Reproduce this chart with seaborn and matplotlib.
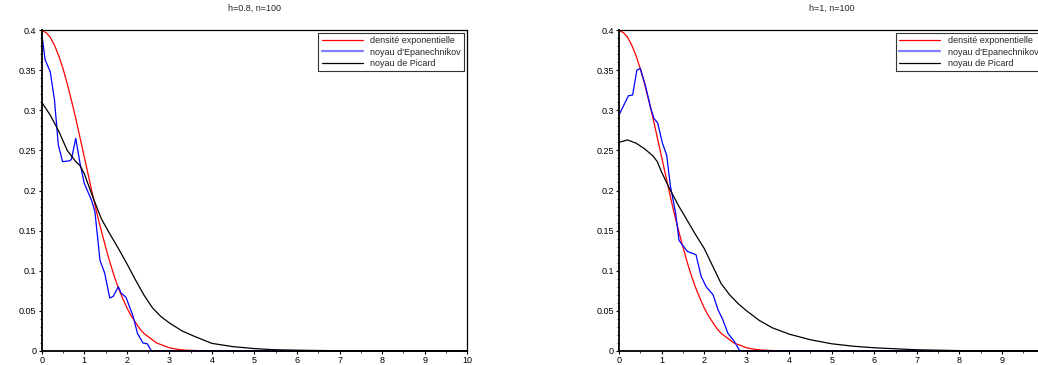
import numpy as np
import pandas as pd
import matplotlib
matplotlib.use("Agg")
import matplotlib.pyplot as plt
from matplotlib.lines import Line2D
from matplotlib.ticker import MultipleLocator, FixedLocator
import seaborn as sns

# Reference density (same in both panels)
x_dens = [0.0, 0.1, 0.2, 0.3, 0.4, 0.5, 0.6, 0.7, 0.8, 0.9, 1.0, 1.1, 1.2, 1.3, 1.4,
          1.5, 1.6, 1.7, 1.8, 1.9, 2.0, 2.1, 2.2, 2.3, 2.4, 2.5, 2.6, 2.7, 2.8, 2.9,
          3.0, 3.2, 3.4, 3.6, 3.8, 4.0, 5.0, 6.0, 7.0, 8.0, 9.0, 10.0]
y_dens = [0.399, 0.397, 0.391, 0.381, 0.368, 0.352, 0.333, 0.312, 0.290, 0.266, 0.242,
          0.218, 0.194, 0.171, 0.150, 0.130, 0.111, 0.094, 0.079, 0.066, 0.054, 0.044,
          0.036, 0.028, 0.022, 0.018, 0.014, 0.010, 0.008, 0.006, 0.004, 0.002, 0.001,
          0.0006, 0.0003, 0.0001, 0.0, 0.0, 0.0, 0.0, 0.0, 0.0]

# Panel 1: h=0.8
x_epa1 = [0.0, 0.08, 0.2, 0.3, 0.39, 0.49, 0.66, 0.7, 0.8, 0.9, 1.0, 1.17, 1.25, 1.37,
          1.48, 1.6, 1.68, 1.8, 1.87, 1.98, 2.15, 2.25, 2.38, 2.48, 2.58, 10.0]
y_epa1 = [0.396, 0.363, 0.348, 0.313, 0.257, 0.236, 0.237, 0.239, 0.265, 0.234, 0.209,
          0.188, 0.174, 0.113, 0.097, 0.066, 0.068, 0.080, 0.072, 0.067, 0.043, 0.022,
          0.010, 0.009, 0.0, 0.0]
x_pic1 = [0.0, 0.2, 0.4, 0.6, 0.8, 0.9, 1.0, 1.2, 1.4, 1.6, 1.8, 2.0, 2.2, 2.4, 2.6,
          2.8, 3.0, 3.3, 3.6, 4.0, 4.5, 5.0, 5.5, 6.0, 7.0, 8.0, 10.0]
y_pic1 = [0.310, 0.294, 0.274, 0.250, 0.236, 0.231, 0.221, 0.192, 0.165, 0.146, 0.128,
          0.109, 0.089, 0.070, 0.054, 0.043, 0.035, 0.025, 0.018, 0.0095, 0.0054, 0.003,
          0.0015, 0.001, 0.0003, 0.0001, 0.0]

# Panel 2: h=1
x_epa2 = [0.0, 0.22, 0.32, 0.42, 0.5, 0.62, 0.74, 0.82, 0.91, 1.02, 1.12, 1.21, 1.33,
          1.41, 1.49, 1.61, 1.81, 1.93, 2.05, 2.21, 2.33, 2.44, 2.56, 2.71, 2.84, 10.0]
y_epa2 = [0.294, 0.318, 0.319, 0.350, 0.352, 0.331, 0.304, 0.290, 0.284, 0.259, 0.244,
          0.205, 0.172, 0.138, 0.132, 0.124, 0.120, 0.093, 0.080, 0.070, 0.051, 0.039,
          0.022, 0.012, 0.0, 0.0]
x_pic2 = [0.0, 0.2, 0.4, 0.6, 0.8, 0.9, 1.0, 1.2, 1.4, 1.6, 1.8, 2.0, 2.2, 2.4, 2.6,
          2.8, 3.0, 3.3, 3.6, 4.0, 4.5, 5.0, 5.5, 6.0, 7.0, 8.0, 9.0, 10.0]
y_pic2 = [0.260, 0.263, 0.259, 0.252, 0.243, 0.236, 0.223, 0.201, 0.181, 0.163, 0.145,
          0.128, 0.106, 0.084, 0.070, 0.059, 0.050, 0.038, 0.029, 0.021, 0.014, 0.009,
          0.006, 0.004, 0.0015, 0.0005, 0.0002, 0.0]

titles = ["h=0.8, n=100", "h=1, n=100"]
labels = ["densité exponentielle", "noyau d'Epanechnikov", "noyau de Picard"]
colors = ["#ff0000", "#0000ff", "#000000"]
x_ticks = list(range(0, 11))
y_ticks = [0, 0.05, 0.1, 0.15, 0.2, 0.25, 0.3, 0.35, 0.4]
y_tick_labels = ["0", "0.05", "0.1", "0.15", "0.2", "0.25", "0.3", "0.35", "0.4"]

sns.set_theme(style="white")
plt.rcParams["font.family"] = ["Liberation Sans", "DejaVu Sans"]

fig = plt.figure(figsize=(10.38, 3.65), dpi=100)
ax_w = 425.5 / 1038
ax_h = 321 / 365
axes = [fig.add_axes([41.7 / 1038, 14 / 365, ax_w, ax_h]),
        fig.add_axes([619.0 / 1038, 14 / 365, ax_w, ax_h])]

panels = [
    [(x_dens, y_dens), (x_epa1, y_epa1), (x_pic1, y_pic1)],
    [(x_dens, y_dens), (x_epa2, y_epa2), (x_pic2, y_pic2)],
]

for ax, title, curves in zip(axes, titles, panels):
    for (xs, ys), lab, col in zip(curves, labels, colors):
        df = pd.DataFrame({"x": xs, "y": ys})
        sns.lineplot(data=df, x="x", y="y", ax=ax, color=col, linewidth=0.9,
                     sort=False, estimator=None, legend=False, clip_on=False)
    ax.set_xlim(0, 10)
    ax.set_ylim(0, 0.4)
    ax.set_xlabel("")
    ax.set_ylabel("")
    ax.set_title(title, fontsize=6.5, pad=14)
    ax.xaxis.set_major_locator(FixedLocator(x_ticks))
    ax.xaxis.set_minor_locator(MultipleLocator(0.5))
    ax.yaxis.set_major_locator(FixedLocator(y_ticks))
    ax.yaxis.set_minor_locator(MultipleLocator(0.01))
    ax.set_yticklabels(y_tick_labels)
    ax.tick_params(which="major", direction="out", length=2.2, width=0.8,
                   labelsize=6.5, colors="black", pad=1.5, left=True, bottom=True)
    ax.tick_params(which="minor", direction="out", length=1.3, width=0.6,
                   left=True, bottom=True)
    for side in ["left", "bottom"]:
        ax.spines[side].set_linewidth(1.3)
        ax.spines[side].set_color("black")
    for side in ["top", "right"]:
        ax.spines[side].set_linewidth(0.9)
        ax.spines[side].set_color("black")
        ax.spines[side].set_visible(True)

    handles = [Line2D([], [], color="#ff0000", lw=0.9),
               Line2D([], [], color="#7f7fff", lw=1.6),
               Line2D([], [], color="#000000", lw=0.9)]
    leg = ax.legend(handles, labels, loc="upper right", fontsize=6.5,
                    frameon=True, fancybox=False, edgecolor="black",
                    handlelength=4.6, handletextpad=0.8, labelspacing=0.25,
                    borderpad=0.35, borderaxespad=0.35)
    leg.get_frame().set_linewidth(0.8)

fig.savefig("out.png", dpi=100)
